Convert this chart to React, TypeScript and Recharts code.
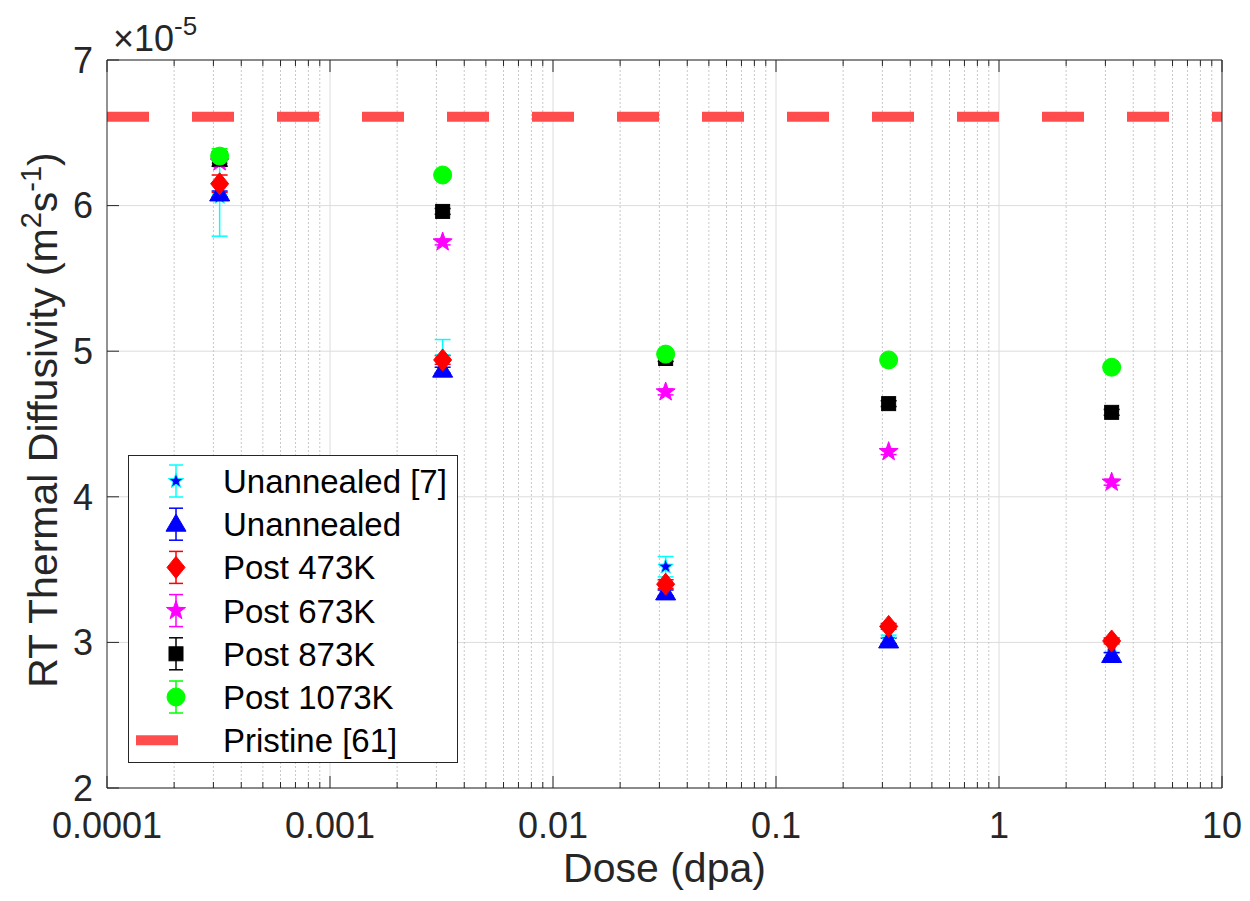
import React from "react";
import { CartesianGrid, ComposedChart, ErrorBar, Legend, ReferenceLine, Scatter, XAxis, YAxis } from "recharts";

const DOSE = [0.00032, 0.0032, 0.032, 0.32, 3.2];

const UNANNEALED_REF = [6.06, 4.96, 3.52, 3.02, 2.98];
const UNANNEALED_REF_ERR = [0.27, 0.12, 0.07, 0.03, 0.05];
const UNANNEALED = [6.08, 4.87, 3.34, 3.01, 2.91];
const UNANNEALED_ERR = [0.02, 0.02, 0.02, 0.02, 0.02];
const POST_473 = [6.15, 4.94, 3.4, 3.11, 3.01];
const POST_473_ERR = [0.06, 0.03, 0.03, 0.02, 0.02];
const POST_673 = [6.3, 5.75, 4.72, 4.31, 4.1];
const POST_673_ERR = [0.03, 0.02, 0.02, 0.02, 0.02];
const POST_873 = [6.32, 5.96, 4.95, 4.64, 4.58];
const POST_873_ERR = [0.05, 0.02, 0.02, 0.02, 0.02];
const POST_1073 = [6.34, 6.21, 4.98, 4.94, 4.89];
const POST_1073_ERR = [0.05, 0.02, 0.02, 0.02, 0.02];
const PRISTINE = 6.61;

const X_TICKS = [0.0001, 0.001, 0.01, 0.1, 1, 10];
const X_TICK_LABELS = ["0.0001", "0.001", "0.01", "0.1", "1", "10"];
const MINOR_MULT = [2, 3, 4, 5, 6, 7, 8, 9];
const Y_TICKS = [2, 3, 4, 5, 6, 7];

const FONT = "'Liberation Sans', Arial, Helvetica, sans-serif";
const AXIS = "#262626";
const W = 1234;
const H = 885;
const GAP_X = 24;
const GAP_Y = 14;
const TICK_FONT = 36;
const LABEL_FONT = 41;
const LEGEND_FONT = 33;

const MINOR_TICKS = X_TICKS.slice(0, -1).flatMap((d) => MINOR_MULT.map((m) => +(d * m).toPrecision(6)));
const ALL_X_TICKS = [...X_TICKS, ...MINOR_TICKS].sort((a, b) => a - b);

type Kind = "smallStar" | "triangle" | "diamond" | "star" | "square" | "circle";

const SERIES: { name: string; values: number[]; err: number[]; kind: Kind; fill: string; edge: string; bar: string }[] = [
  { name: "Unannealed [7]", values: UNANNEALED_REF, err: UNANNEALED_REF_ERR, kind: "smallStar", fill: "#0000ff", edge: "#00ffff", bar: "#00ffff" },
  { name: "Unannealed", values: UNANNEALED, err: UNANNEALED_ERR, kind: "triangle", fill: "#0000ff", edge: "#0000ff", bar: "#0000ff" },
  { name: "Post 473K", values: POST_473, err: POST_473_ERR, kind: "diamond", fill: "#ff0000", edge: "#ff0000", bar: "#ff0000" },
  { name: "Post 673K", values: POST_673, err: POST_673_ERR, kind: "star", fill: "#ff00ff", edge: "#ff00ff", bar: "#ff00ff" },
  { name: "Post 873K", values: POST_873, err: POST_873_ERR, kind: "square", fill: "#000000", edge: "#000000", bar: "#000000" },
  { name: "Post 1073K", values: POST_1073, err: POST_1073_ERR, kind: "circle", fill: "#00ff00", edge: "#00ff00", bar: "#00ff00" },
];

function starPoints(cx: number, cy: number, r: number) {
  const pts: string[] = [];
  for (let i = 0; i < 10; i++) {
    const rr = i % 2 === 0 ? r : r * 0.4;
    const a = -Math.PI / 2 + (i * Math.PI) / 5;
    pts.push(`${cx + rr * Math.cos(a)},${cy + rr * Math.sin(a)}`);
  }
  return pts.join(" ");
}

function Marker({ kind, cx, cy, fill, edge }: { kind: Kind; cx: number; cy: number; fill: string; edge: string }) {
  if (cx == null || cy == null) return null;
  switch (kind) {
    case "smallStar":
      return <polygon points={starPoints(cx, cy, 8)} fill={fill} stroke={edge} strokeWidth={1} />;
    case "star":
      return <polygon points={starPoints(cx, cy, 10)} fill={fill} stroke={edge} strokeWidth={1} />;
    case "triangle":
      return <polygon points={`${cx},${cy - 10} ${cx + 10},${cy + 7} ${cx - 10},${cy + 7}`} fill={fill} stroke={edge} />;
    case "diamond":
      return <polygon points={`${cx},${cy - 11} ${cx + 9},${cy} ${cx},${cy + 11} ${cx - 9},${cy}`} fill={fill} stroke={edge} />;
    case "square":
      return <rect x={cx - 7} y={cy - 7} width={14} height={14} fill={fill} stroke={edge} />;
    default:
      return <circle cx={cx} cy={cy} r={9} fill={fill} stroke={edge} />;
  }
}

function BottomTick(props: any) {
  const { x, y, payload } = props;
  const i = X_TICKS.indexOf(payload.value);
  const axisY = y - GAP_X;
  return (
    <g>
      <line x1={x} x2={x} y1={axisY} y2={axisY - (i >= 0 ? 12 : 6)} stroke={AXIS} />
      {i >= 0 && (
        <text x={x} y={y} dy="0.71em" textAnchor="middle" fontFamily={FONT} fontSize={TICK_FONT} fill={AXIS}>
          {X_TICK_LABELS[i]}
        </text>
      )}
    </g>
  );
}

function TopTick(props: any) {
  const { x, y, payload } = props;
  const major = X_TICKS.indexOf(payload.value) >= 0;
  const axisY = y + GAP_X;
  return <line x1={x} x2={x} y1={axisY} y2={axisY + (major ? 12 : 6)} stroke={AXIS} />;
}

function LeftTick(props: any) {
  const { x, y, payload } = props;
  const axisX = x + GAP_Y;
  return (
    <g>
      <line x1={axisX} x2={axisX + 12} y1={y} y2={y} stroke={AXIS} />
      <text x={x} y={y} dy="0.355em" textAnchor="end" fontFamily={FONT} fontSize={TICK_FONT} fill={AXIS}>
        {payload.value}
      </text>
    </g>
  );
}

function RightTick(props: any) {
  const { x, y } = props;
  const axisX = x - GAP_Y;
  return <line x1={axisX} x2={axisX - 12} y1={y} y2={y} stroke={AXIS} />;
}

function YTitle(props: any) {
  const { x, y, height } = props.viewBox;
  const cx = x + 49;
  const cy = y + height / 2 - 4;
  return (
    <text transform={`translate(${cx},${cy}) rotate(-90)`} textAnchor="middle" fontFamily={FONT} fontSize={LABEL_FONT} fill={AXIS}>
      RT Thermal Diffusivity (m
      <tspan dy={-16} fontSize={29}>2</tspan>
      <tspan dy={16}>s</tspan>
      <tspan dy={-16} fontSize={29}>-1</tspan>
      <tspan dy={16}>)</tspan>
    </text>
  );
}

function XTitle(props: any) {
  const { x, y, width } = props.viewBox;
  return (
    <text x={x + width / 2} y={y + 94} textAnchor="middle" fontFamily={FONT} fontSize={LABEL_FONT} fill={AXIS}>
      Dose (dpa)
    </text>
  );
}

function Exponent(props: any) {
  const { x, y } = props.viewBox;
  return (
    <text x={x + 6} y={y + 1} fontFamily={FONT} fontSize={TICK_FONT} fill={AXIS}>
      {"\u00d710"}
      <tspan dy={-16} fontSize={26}>-5</tspan>
    </text>
  );
}

function LegendBox() {
  const rowY = (i: number) => 26 + i * 43.2;
  return (
    <svg width={330} height={308} style={{ display: "block" }}>
      <rect x={0.5} y={0.5} width={329} height={307} fill="#ffffff" stroke={AXIS} />
      {SERIES.map((s, i) => {
        const cy = rowY(i);
        return (
          <g key={s.name}>
            <line x1={48} x2={48} y1={cy - 16} y2={cy + 16} stroke={s.bar} strokeWidth={1.5} />
            <line x1={41} x2={55} y1={cy - 16} y2={cy - 16} stroke={s.bar} strokeWidth={1.5} />
            <line x1={41} x2={55} y1={cy + 16} y2={cy + 16} stroke={s.bar} strokeWidth={1.5} />
            <Marker kind={s.kind} cx={48} cy={cy} fill={s.fill} edge={s.edge} />
            <text x={95} y={cy + 12} fontFamily={FONT} fontSize={LEGEND_FONT} fill="#000">
              {s.name}
            </text>
          </g>
        );
      })}
      <line x1={8} x2={50} y1={rowY(6)} y2={rowY(6)} stroke="#ff4d4d" strokeWidth={10} />
      <text x={95} y={rowY(6) + 12} fontFamily={FONT} fontSize={LEGEND_FONT} fill="#000">
        Pristine [61]
      </text>
    </svg>
  );
}

export default function App() {
  return (
    <div style={{ width: W, height: H, background: "#fff" }}>
      <ComposedChart width={W} height={H} margin={{ top: 42, right: 10, bottom: 0, left: 0 }}>
        <CartesianGrid xAxisId="x" yAxisId="y" vertical={false} stroke="#dcdcdc" />
        <XAxis
          xAxisId="x"
          dataKey="x"
          type="number"
          scale="log"
          domain={[0.0001, 10]}
          allowDataOverflow
          ticks={ALL_X_TICKS}
          interval={0}
          height={105}
          stroke={AXIS}
          tickSize={0}
          tickLine={false}
          tickMargin={GAP_X}
          tick={<BottomTick />}
          label={<XTitle />}
        />
        <XAxis
          xAxisId="top"
          dataKey="x"
          orientation="top"
          type="number"
          scale="log"
          domain={[0.0001, 10]}
          allowDataOverflow
          ticks={ALL_X_TICKS}
          interval={0}
          height={10}
          stroke={AXIS}
          tickSize={0}
          tickLine={false}
          tickMargin={GAP_X}
          tick={<TopTick />}
          label={<Exponent />}
        />
        <YAxis
          yAxisId="y"
          dataKey="y"
          type="number"
          domain={[2, 7]}
          ticks={Y_TICKS}
          interval={0}
          width={99}
          stroke={AXIS}
          tickSize={0}
          tickLine={false}
          tickMargin={GAP_Y}
          tick={<LeftTick />}
          label={<YTitle />}
        />
        <YAxis
          yAxisId="right"
          dataKey="y"
          orientation="right"
          type="number"
          domain={[2, 7]}
          ticks={Y_TICKS}
          interval={0}
          width={10}
          stroke={AXIS}
          tickSize={0}
          tickLine={false}
          tickMargin={GAP_Y}
          tick={<RightTick />}
        />
        {X_TICKS.slice(1, -1).map((v) => (
          <ReferenceLine key={`M${v}`} xAxisId="x" yAxisId="y" x={v} stroke="#dcdcdc" />
        ))}
        {MINOR_TICKS.map((v) => (
          <ReferenceLine key={`m${v}`} xAxisId="x" yAxisId="y" x={v} stroke="#c8c8c8" strokeDasharray="2 2" />
        ))}
        <ReferenceLine xAxisId="x" yAxisId="y" y={PRISTINE} stroke="#ff4d4d" strokeWidth={10} strokeDasharray="42 43" />
        {SERIES.map((s) => (
          <Scatter
            key={s.name}
            name={s.name}
            xAxisId="x"
            yAxisId="y"
            data={DOSE.map((d, i) => ({ x: d, y: s.values[i], err: s.err[i] }))}
            dataKey="y"
            isAnimationActive={false}
            shape={(p: any) => <Marker kind={s.kind} cx={p.cx} cy={p.cy} fill={s.fill} edge={s.edge} />}
          >
            <ErrorBar dataKey="err" direction="y" width={8} stroke={s.bar} strokeWidth={1.5} />
          </Scatter>
        ))}
        <Legend
          layout="vertical"
          align="center"
          verticalAlign="middle"
          wrapperStyle={{ position: "absolute", left: 120, top: 447, width: 330, height: 308 }}
          content={() => <LegendBox />}
        />
      </ComposedChart>
    </div>
  );
}
